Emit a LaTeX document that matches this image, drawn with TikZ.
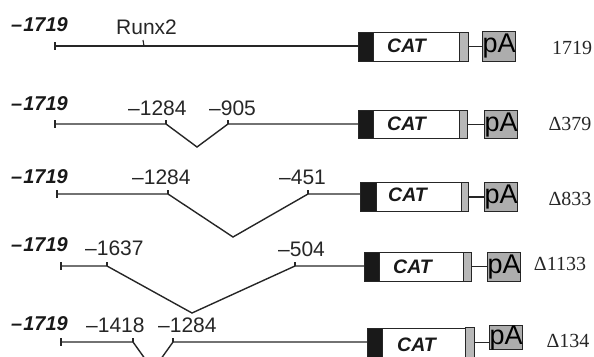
\documentclass[tikz,border=0pt]{standalone}
\usepackage{fontspec}
\setmainfont{Liberation Serif}
\newfontfamily\arialf{Liberation Sans}
\tikzset{
  dna/.style={line width=1.4pt, draw=black!85},
  blk/.style={draw=black!85, fill=black!90, line width=1.2pt, inner sep=0pt, anchor=north west},
  wht/.style={draw=black!85, fill=white, line width=1.4pt, inner sep=0pt, anchor=north west},
  gry/.style={draw=black!85, fill=black!28, line width=1.3pt, inner sep=0pt, anchor=north west},
  pabox/.style={draw=black!85, fill=black!32, line width=1.3pt, inner sep=0pt, anchor=north west, font=\arialf\fontsize{27pt}{27pt}\selectfont},
  num/.style={inner sep=0pt, anchor=base west, text=black!85, font=\arialf\fontsize{21pt}{21pt}\selectfont},
  start/.style={inner sep=0pt, anchor=base west, text=black!90, font=\arialf\bfseries\itshape\fontsize{20pt}{20pt}\selectfont},
  cat/.style={inner sep=0pt, anchor=base west, text=black!90, font=\arialf\bfseries\itshape\fontsize{19.5pt}{19.5pt}\selectfont},
  rlab/.style={inner sep=0pt, anchor=base, text=black!85, font=\fontsize{20pt}{20pt}\selectfont},
}
\begin{document}
\begin{tikzpicture}[x=1pt,y=-1pt]
\clip (0,0) rectangle (594,356);
\useasboundingbox (0,0) rectangle (594,356);

% ---------- Row 1 ----------
\node[start] (l1) at (11,31.7) {\textendash\kern1pt1719};
\node[num] (runx) at (116,34) {Runx2};
\coordinate (s1) at (55,46);
\coordinate (r1) at (144,46);
\node[blk, minimum width=15pt, minimum height=29pt] (b1) at (358,31.5) {};
\node[wht, minimum width=86pt, minimum height=29pt] (w1) at (373,31.5) {};
\node[gry, minimum width=9pt, minimum height=29pt] (g1) at (459,31.5) {};
\node[cat] (t1) at (387,52.7) {CAT};
\node[pabox, minimum width=32pt, minimum height=30pt] (p1) at (482,30.5) {pA};
\node[rlab] (d1) at (572,54) {1719};
\draw[dna] (s1) -- (s1 -| b1.west);
\draw[dna] ([yshift=4pt]s1) -- ([yshift=-4pt]s1);
\draw[dna, line width=1.1pt] (r1) -- ([xshift=-1pt,yshift=6pt]r1);
\draw[dna] (g1.east) -- (g1.east -| p1.west);

% ---------- Row 2 ----------
\node[start] (l2) at (11,110) {\textendash\kern1pt1719};
\node[num] (n2a) at (128,115) {\textendash1284};
\node[num] (n2b) at (209,115) {\textendash905};
\coordinate (s2) at (55,124);
\coordinate (c2a) at (166,124);
\coordinate (c2b) at (228,124);
\coordinate (v2) at (197,147);
\node[blk, minimum width=15pt, minimum height=28pt] (b2) at (358,110) {};
\node[wht, minimum width=86pt, minimum height=28pt] (w2) at (373,110) {};
\node[gry, minimum width=8pt, minimum height=28pt] (g2) at (459,110) {};
\node[cat] (t2) at (387,130.7) {CAT};
\node[pabox, minimum width=33pt, minimum height=28pt] (p2) at (484,110) {pA};
\node[rlab] (d2) at (570,130.7) {\symbol{"0394}379};
\draw[dna] (s2) -- (c2a) -- (v2) -- (c2b) -- (c2b -| b2.west);
\draw[dna] ([yshift=4pt]s2) -- ([yshift=-4pt]s2);
\draw[dna, line width=1.1pt] (c2a) -- ([yshift=4pt]c2a);
\draw[dna, line width=1.1pt] (c2b) -- ([yshift=4pt]c2b);
\draw[dna] (g2.east) -- (g2.east -| p2.west);

% ---------- Row 3 ----------
\node[start] (l3) at (11,183.3) {\textendash\kern1pt1719};
\node[num] (n3a) at (132,184) {\textendash1284};
\node[num] (n3b) at (279,184) {\textendash451};
\coordinate (s3) at (57,194);
\coordinate (c3a) at (168,194);
\coordinate (c3b) at (308,194);
\coordinate (v3) at (233,237);
\node[blk, minimum width=16pt, minimum height=29pt] (b3) at (360,182) {};
\node[wht, minimum width=85pt, minimum height=29pt] (w3) at (376,182) {};
\node[gry, minimum width=7pt, minimum height=29pt] (g3) at (461,182) {};
\node[cat] (t3) at (388,201.7) {CAT};
\node[pabox, minimum width=32pt, minimum height=29pt] (p3) at (484,182) {pA};
\node[rlab] (d3) at (570,205) {\symbol{"0394}833};
\draw[dna] (s3) -- (c3a) -- (v3) -- (c3b) -- (c3b -| b3.west);
\draw[dna] ([yshift=4pt]s3) -- ([yshift=-4pt]s3);
\draw[dna, line width=1.1pt] (c3a) -- ([yshift=4pt]c3a);
\draw[dna, line width=1.1pt] (c3b) -- ([yshift=4pt]c3b);
\draw[dna] (g3.east) -- (g3.east -| p3.west);

% ---------- Row 4 ----------
\node[start] (l4) at (11,251.7) {\textendash\kern1pt1719};
\node[num] (n4a) at (85,255) {\textendash1637};
\node[num] (n4b) at (278,256.7) {\textendash504};
\coordinate (s4) at (61,266);
\coordinate (c4a) at (107,266);
\coordinate (c4b) at (295,266);
\coordinate (v4) at (192,313);
\node[blk, minimum width=15pt, minimum height=29pt] (b4) at (364,251.5) {};
\node[wht, minimum width=84pt, minimum height=29pt] (w4) at (379,251.5) {};
\node[gry, minimum width=8pt, minimum height=29pt] (g4) at (463,251.5) {};
\node[cat] (t4) at (393,273) {CAT};
\node[pabox, minimum width=33pt, minimum height=29pt] (p4) at (487,251.5) {pA};
\node[rlab] (d4) at (560,270) {\symbol{"0394}1133};
\draw[dna] (s4) -- (c4a) -- (v4) -- (c4b) -- (c4b -| b4.west);
\draw[dna] ([yshift=4pt]s4) -- ([yshift=-4pt]s4);
\draw[dna, line width=1.1pt] (c4a) -- ([yshift=4pt]c4a);
\draw[dna, line width=1.1pt] (c4b) -- ([yshift=4pt]c4b);
\draw[dna] (g4.east) -- (g4.east -| p4.west);

% ---------- Row 5 ----------
\node[start] (l5) at (11,330) {\textendash\kern1pt1719};
\node[num] (n5a) at (86,332.7) {\textendash1418};
\node[num] (n5b) at (158,332.7) {\textendash1284};
\coordinate (s5) at (61,342);
\coordinate (c5a) at (133,342);
\coordinate (c5b) at (173,342);
\coordinate (v5) at (153,370);
\node[blk, minimum width=15pt, minimum height=29pt] (b5) at (367,328) {};
\node[wht, minimum width=83pt, minimum height=29pt] (w5) at (382,328) {};
\node[gry, minimum width=9pt, minimum height=30pt] (g5) at (465,327) {};
\node[cat] (t5) at (397,351.7) {CAT};
\node[pabox, minimum width=33pt, minimum height=22pt] (p5) at (489,325) {pA};
\node[rlab] (d5) at (568,347) {\symbol{"0394}134};
\draw[dna] (s5) -- (c5a) -- (v5) -- (c5b) -- (c5b -| b5.west);
\draw[dna] ([yshift=4pt]s5) -- ([yshift=-4pt]s5);
\draw[dna, line width=1.1pt] (c5a) -- ([yshift=4pt]c5a);
\draw[dna, line width=1.1pt] (c5b) -- ([yshift=4pt]c5b);
\draw[dna] (g5.east) -- (g5.east -| p5.west);
\end{tikzpicture}
\end{document}
